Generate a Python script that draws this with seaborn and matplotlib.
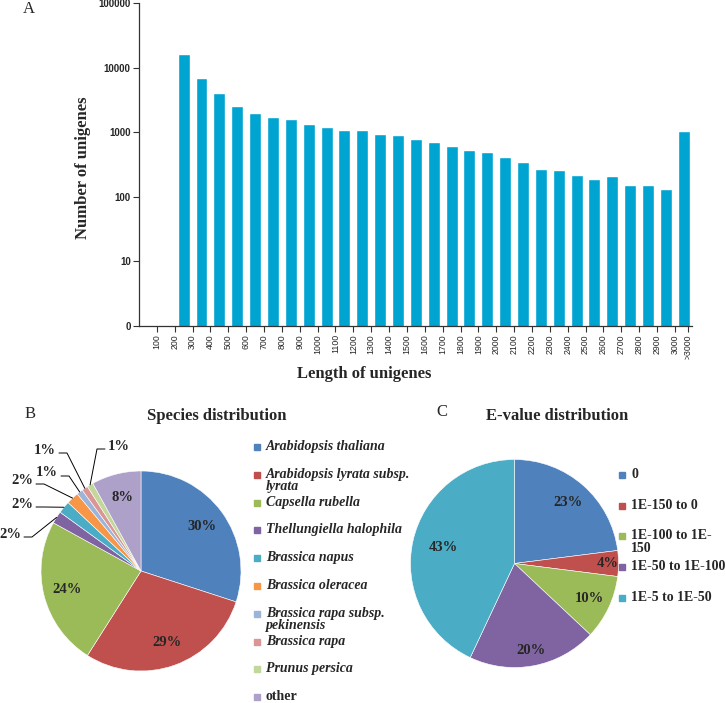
import numpy as np
import pandas as pd
import matplotlib
matplotlib.use("Agg")
import matplotlib.pyplot as plt
from matplotlib.patches import Rectangle
from matplotlib.lines import Line2D
import seaborn as sns

# ------------------------------------------------------------
# Data
# ------------------------------------------------------------
# A: length distribution (bins named by their lower bound)
slot_order = ["0", "100"] + [str(v) for v in range(200, 3000, 100)] + [">3000"]
bar_bins = [str(v) for v in range(200, 3000, 100)] + [">3000"]
unigene_counts = [16000, 7000, 4000, 2500, 1950, 1700, 1600, 1350, 1220, 1080,
                  1070, 930, 905, 785, 715, 620, 535, 490, 415, 342,
                  270, 263, 220, 187, 210, 151, 154, 131, 1035]
length_ticks = [str(v) for v in range(100, 3100, 100)]

# B: species distribution
species = ["Arabidopsis thaliana", "Arabidopsis lyrata subsp.\nlyrata", "Capsella rubella",
           "Thellungiella halophila", "Brassica napus", "Brassica oleracea",
           "Brassica rapa subsp.\npekinensis", "Brassica rapa", "Prunus persica", "other"]
species_pct = [30, 29, 24, 2, 2, 2, 1, 1, 1, 8]
species_colors = ["#4F81BD", "#C0504D", "#9BBB59", "#8064A2", "#4BACC6",
                  "#F79646", "#9DB4DA", "#D99694", "#C3D69B", "#ADA0C9"]

# C: E-value distribution
evalue_bins = ["0", "1E-150 to 0", "1E-100 to 1E-\n150", "1E-50 to 1E-100", "1E-5 to 1E-50"]
evalue_pct = [23, 4, 10, 20, 43]
evalue_colors = ["#4F81BD", "#C0504D", "#9BBB59", "#8064A2", "#4BACC6"]

W, H = 726, 703


def fx(x):
    return x / W


def fy(y):
    return 1 - y / H


sns.set_style("white")
plt.rcParams['font.family'] = ['Liberation Serif', 'DejaVu Serif']

fig = plt.figure(figsize=(W / 100, H / 100), dpi=100)

# ------------------------------------------------------------
# A: bar chart (log scale)
# ------------------------------------------------------------
ax = fig.add_axes([fx(139), fy(326), fx(692 - 139), (326 - 3) / H])
ax.set_yscale("log")
df = pd.DataFrame({"bin": bar_bins, "count": unigene_counts})
sns.barplot(data=df, x="bin", y="count", order=slot_order, color="#00A4D1",
            saturation=1, width=0.67, errorbar=None, ax=ax)
ax.set_ylim(1, 100000)
ax.set_xlim(-0.5, 30.46)
ax.minorticks_off()
ax.set_yticks([1, 10, 100, 1000, 10000, 100000])
ax.set_yticklabels(["0", "10", "100", "1000", "10000", "100000"],
                   fontfamily="Liberation Sans", fontweight="bold", fontsize=7)
xt = list(np.arange(len(length_ticks)) + 0.5) + [30.25]
ax.set_xticks(xt)
ax.set_xticklabels(length_ticks + [">3000"], rotation=90,
                   fontfamily="Liberation Sans", fontsize=6.3)
ax.xaxis.get_major_ticks()[-1].tick1line.set_visible(False)
ax.tick_params(axis="both", direction="out", length=4, width=0.8, color="#333333",
               bottom=True, left=True, pad=2)
for s in ["top", "right"]:
    ax.spines[s].set_visible(False)
for s in ["left", "bottom"]:
    ax.spines[s].set_color("#333333")
    ax.spines[s].set_linewidth(0.9)
ax.set_xlabel("")
ax.set_ylabel("")

fig.text(fx(29), fy(9), "A", fontsize=12, ha="center", va="center")
fig.text(fx(83), fy(168), "Number of unigenes", fontsize=12, fontweight="bold",
         rotation=90, ha="center", va="center")
fig.text(fx(364), fy(374), "Length of unigenes", fontsize=12, fontweight="bold",
         ha="center", va="center")


# ------------------------------------------------------------
# pie helper
# ------------------------------------------------------------
def pie_axes(cx, cy, r):
    half = 1.5 * r
    a = fig.add_axes([fx(cx - half), fy(cy + half), 2 * half / W, 2 * half / H])
    return a


def draw_pie(a, values, colors):
    wedges, _ = a.pie(values, colors=colors, startangle=90, counterclock=False,
                      radius=1, wedgeprops=dict(edgecolor="white", linewidth=0.4))
    a.set_xlim(-1.5, 1.5)
    a.set_ylim(-1.5, 1.5)
    a.set_aspect("equal")
    a.axis("off")
    return wedges


def mid_xy(w, d):
    ang = np.deg2rad((w.theta1 + w.theta2) / 2)
    return d * np.cos(ang), d * np.sin(ang)


# ------------------------------------------------------------
# B: species distribution
# ------------------------------------------------------------
axb = pie_axes(141, 571, 100)
wb = draw_pie(axb, species_pct, species_colors)
inside_b = {0: 0.76, 1: 0.76, 2: 0.76, 9: 0.76}
for i, d in inside_b.items():
    x, y = mid_xy(wb[i], d)
    axb.text(x, y, f"{species_pct[i]}%", ha="center", va="center",
             fontsize=10.5, fontweight="bold")

outside_b = {3: ((-1.31, 0.37), "r"), 4: ((-1.19, 0.67), "r"), 5: ((-1.19, 0.90), "r"),
             6: ((-0.94, 0.98), "r"), 7: ((-0.96, 1.21), "r"), 8: ((-0.22, 1.25), "l")}
for i, ((tx, ty), side) in outside_b.items():
    ex, ey = mid_xy(wb[i], 1.0)
    if side == "r":
        p1, p2 = (tx + 0.14, ty - 0.03), (tx + 0.22, ty - 0.03)
    else:
        p1, p2 = (tx - 0.14, ty - 0.03), (tx - 0.22, ty - 0.03)
    axb.add_line(Line2D([p1[0], p2[0], ex], [p1[1], p2[1], ey], color="black",
                        linewidth=0.7, clip_on=False))
    axb.text(tx, ty, f"{species_pct[i]}%", ha="center", va="center",
             fontsize=10.5, fontweight="bold", clip_on=False)

fig.text(fx(30), fy(414), "B", fontsize=12, ha="center", va="center")
fig.text(fx(217), fy(416), "Species distribution", fontsize=12, fontweight="bold",
         ha="center", va="center")

for k, (lab, col) in enumerate(zip(species, species_colors)):
    y = 447 + 27.8 * k
    fig.add_artist(Rectangle((fx(254), fy(y + 3)), 6 / W, 6 / H, color=col,
                             transform=fig.transFigure))
    fig.text(fx(266), fy(y - 7), lab, fontsize=10, fontweight="bold",
             fontstyle="italic" if lab != "other" else "normal",
             ha="left", va="top", linespacing=0.95)

# ------------------------------------------------------------
# C: E-value distribution
# ------------------------------------------------------------
axc = pie_axes(514.5, 563.5, 104)
wc = draw_pie(axc, evalue_pct, evalue_colors)
dist_c = [0.78, 0.9, 0.8, 0.85, 0.7]
for i, d in enumerate(dist_c):
    x, y = mid_xy(wc[i], d)
    axc.text(x, y, f"{evalue_pct[i]}%", ha="center", va="center",
             fontsize=10.5, fontweight="bold")

fig.text(fx(442), fy(412), "C", fontsize=12, ha="center", va="center")
fig.text(fx(557), fy(416), "E-value distribution", fontsize=12, fontweight="bold",
         ha="center", va="center")

legend_c_y = [475, 506, 536, 567, 598]
for lab, col, y in zip(evalue_bins, evalue_colors, legend_c_y):
    fig.add_artist(Rectangle((fx(619), fy(y + 3)), 6 / W, 6 / H, color=col,
                             transform=fig.transFigure))
    fig.text(fx(631), fy(y - 7), lab, fontsize=10, fontweight="bold",
             ha="left", va="top", linespacing=0.95)

fig.savefig("out.png", dpi=100)
